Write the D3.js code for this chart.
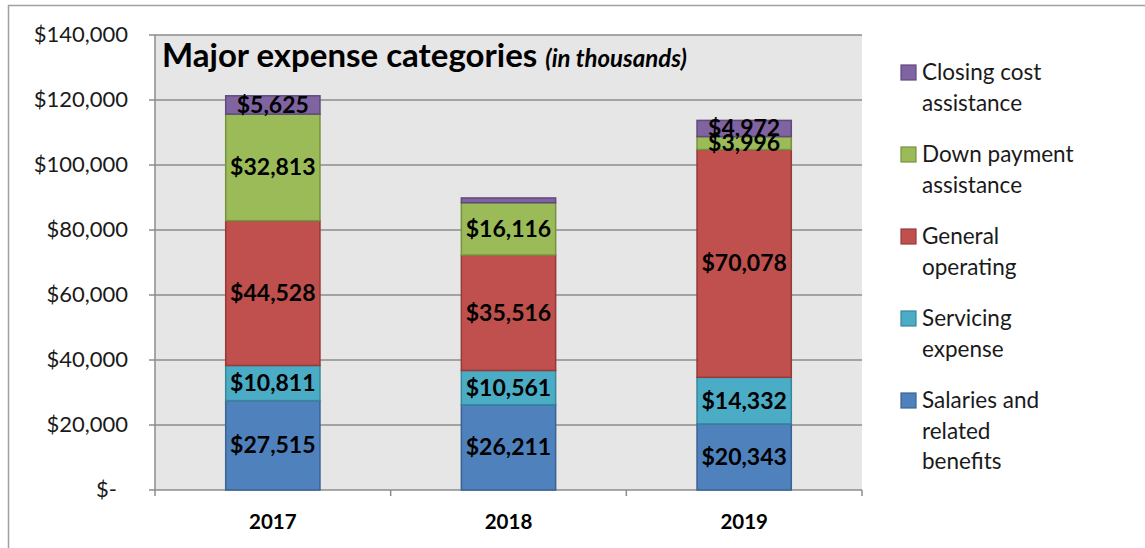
<!DOCTYPE html>
<html><head><meta charset="utf-8">
<script src="https://cdn.jsdelivr.net/npm/d3@7"></script>
<style>body{margin:0;background:#fff;}svg{display:block;font-family:Lato,"Open Sans",sans-serif;}</style>
</head><body>
<svg id="c" width="1145" height="548"></svg>
<script>
const years = ["2017","2018","2019"];
const seriesNames = ["Salaries and related benefits","Servicing expense","General operating","Down payment assistance","Closing cost assistance"];
const salaries = [27515, 26211, 20343];
const servicing = [10811, 10561, 14332];
const general = [44528, 35516, 70078];
const downPayment = [32813, 16116, 3996];
const closingCost = [5625, 1450, 4972];
const showLabel = [[true,true,true],[true,true,true],[true,true,true],[true,true,true],[true,false,true]];
const yTicks = [0,20000,40000,60000,80000,100000,120000,140000];
const legendLines = [["Closing cost","assistance"],["Down payment","assistance"],["General","operating"],["Servicing","expense"],["Salaries and","related","benefits"]];
const colors = ["#4F81BD","#4BACC6","#C0504D","#9BBB59","#8064A2"];
const strokes = ["#3A6393","#37879C","#953A38","#77913F","#5E4A7B"];

const svg = d3.select("#c");
svg.append("rect").attr("x",8.5).attr("y",5.5).attr("width",1145).attr("height",560).attr("fill","#fff").attr("stroke","#a0a0a0").attr("stroke-width",1.5);

const L=155,R=862,T=35,B=490;
const x = d3.scaleBand().domain(years).range([L,R]).paddingInner(0.6).paddingOuter(0.3);
const xb = d3.scaleBand().domain(years).range([L,R]);
const y = d3.scaleLinear().domain([0,140000]).range([B,T]);

svg.append("rect").attr("x",L).attr("y",T).attr("width",R-L).attr("height",B-T).attr("fill","#E6E6E6");
svg.append("g").selectAll("line").data(yTicks).join("line")
  .attr("x1",L-6).attr("x2",R).attr("y1",d=>y(d)).attr("y2",d=>y(d))
  .attr("stroke","#8c8c8c").attr("stroke-width",1.5);
svg.append("line").attr("x1",L).attr("x2",L).attr("y1",T).attr("y2",B).attr("stroke","#8c8c8c").attr("stroke-width",1.5);
const bounds = years.map(d=>xb(d)).concat([R]);
svg.append("g").selectAll("line").data(bounds).join("line")
  .attr("x1",d=>d).attr("x2",d=>d).attr("y1",B).attr("y2",B+6).attr("stroke","#8c8c8c").attr("stroke-width",1.5);

const fmt = d3.format(",");
svg.append("g").selectAll("text").data(yTicks).join("text")
  .attr("x",d=>d===0?117:128).attr("y",d=>y(d)+7).attr("text-anchor","end")
  .attr("font-size",22).attr("fill","#1a1a1a").text(d=>d===0?"$-":"$"+fmt(d));

svg.append("g").selectAll("text").data(years).join("text")
  .attr("x",d=>x(d)+x.bandwidth()/2).attr("y",529).attr("text-anchor","middle")
  .attr("font-size",20.5).attr("font-weight","bold").attr("fill","#000").text(d=>d);

const table = years.map((yr,i)=>({year:yr, s0:salaries[i], s1:servicing[i], s2:general[i], s3:downPayment[i], s4:closingCost[i]}));
const stack = d3.stack().keys(["s0","s1","s2","s3","s4"])(table);
stack.forEach((layer,k)=>{
  svg.append("g").selectAll("rect").data(layer).join("rect")
    .attr("x",d=>x(d.data.year)).attr("width",x.bandwidth())
    .attr("y",d=>y(d[1])).attr("height",d=>y(d[0])-y(d[1]))
    .attr("fill",colors[k]).attr("stroke",strokes[k]).attr("stroke-width",1.5);
});
stack.forEach((layer,k)=>{
  svg.append("g").selectAll("text").data(layer.filter((d,i)=>showLabel[k][i])).join("text")
    .attr("x",d=>x(d.data.year)+x.bandwidth()/2).attr("y",d=>(y(d[0])+y(d[1]))/2+8)
    .attr("text-anchor","middle").attr("font-size",23).attr("font-weight","bold").attr("fill","#000")
    .text(d=>"$"+fmt(d[1]-d[0]));
});

const t = svg.append("text").attr("x",162).attr("y",67).attr("fill","#000");
t.append("tspan").attr("font-size",33).attr("font-weight","bold").text("Major expense categories ");
t.append("tspan").attr("font-size",24).attr("font-weight","bold").attr("font-style","italic").text("(in thousands)");

const legY = [72,154,236,318,400];
const legIdx = [4,3,2,1,0];
legendLines.forEach((lines,i)=>{
  const k = legIdx[i];
  svg.append("rect").attr("x",901).attr("y",legY[i]-7).attr("width",15).attr("height",15)
    .attr("fill",colors[k]).attr("stroke",strokes[k]).attr("stroke-width",1.2);
  svg.append("g").selectAll("text").data(lines).join("text")
    .attr("x",922).attr("y",(d,j)=>legY[i]+8+j*30.5).attr("font-size",22.5).attr("fill","#1a1a1a").text(d=>d);
});
</script>
</body></html>
